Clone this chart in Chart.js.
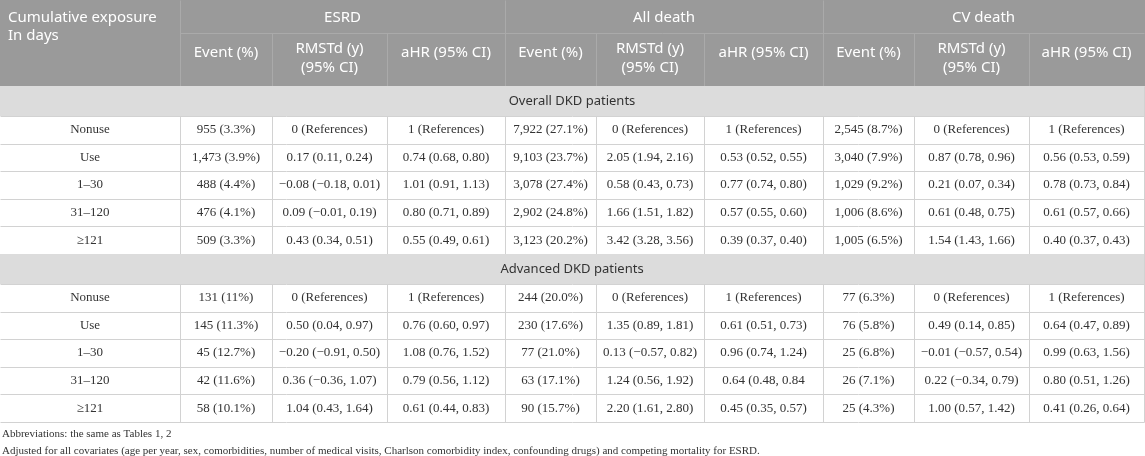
<!DOCTYPE html>
<html>
<head>
<meta charset="utf-8">
<script src="https://cdn.jsdelivr.net/npm/chart.js@4/dist/chart.umd.min.js"></script>
<style>
  html, body { margin: 0; padding: 0; background: #fff; }
  #wrap { width: 1145px; height: 456px; position: relative; }
</style>
</head>
<body>
<div id="wrap"><canvas id="myChart"></canvas></div>
<script>
const ctx = document.getElementById("myChart").getContext("2d");

// table content
const firstHead = ["Cumulative exposure", "In days"];
const outcomes = ["ESRD", "All death", "CV death"];
const subHeads = [["Event (%)"], ["RMSTd (y)", "(95% CI)"], ["aHR (95% CI)"]];
const exposure = ["Nonuse", "Use", "1–30", "31–120", "≥121"];
const sections = ["Overall DKD patients", "Advanced DKD patients"];

const overallEsrd = [
  ["955 (3.3%)", "0 (References)", "1 (References)"],
  ["1,473 (3.9%)", "0.17 (0.11, 0.24)", "0.74 (0.68, 0.80)"],
  ["488 (4.4%)", "−0.08 (−0.18, 0.01)", "1.01 (0.91, 1.13)"],
  ["476 (4.1%)", "0.09 (−0.01, 0.19)", "0.80 (0.71, 0.89)"],
  ["509 (3.3%)", "0.43 (0.34, 0.51)", "0.55 (0.49, 0.61)"],
];
const overallDeath = [
  ["7,922 (27.1%)", "0 (References)", "1 (References)"],
  ["9,103 (23.7%)", "2.05 (1.94, 2.16)", "0.53 (0.52, 0.55)"],
  ["3,078 (27.4%)", "0.58 (0.43, 0.73)", "0.77 (0.74, 0.80)"],
  ["2,902 (24.8%)", "1.66 (1.51, 1.82)", "0.57 (0.55, 0.60)"],
  ["3,123 (20.2%)", "3.42 (3.28, 3.56)", "0.39 (0.37, 0.40)"],
];
const overallCv = [
  ["2,545 (8.7%)", "0 (References)", "1 (References)"],
  ["3,040 (7.9%)", "0.87 (0.78, 0.96)", "0.56 (0.53, 0.59)"],
  ["1,029 (9.2%)", "0.21 (0.07, 0.34)", "0.78 (0.73, 0.84)"],
  ["1,006 (8.6%)", "0.61 (0.48, 0.75)", "0.61 (0.57, 0.66)"],
  ["1,005 (6.5%)", "1.54 (1.43, 1.66)", "0.40 (0.37, 0.43)"],
];
const advEsrd = [
  ["131 (11%)", "0 (References)", "1 (References)"],
  ["145 (11.3%)", "0.50 (0.04, 0.97)", "0.76 (0.60, 0.97)"],
  ["45 (12.7%)", "−0.20 (−0.91, 0.50)", "1.08 (0.76, 1.52)"],
  ["42 (11.6%)", "0.36 (−0.36, 1.07)", "0.79 (0.56, 1.12)"],
  ["58 (10.1%)", "1.04 (0.43, 1.64)", "0.61 (0.44, 0.83)"],
];
const advDeath = [
  ["244 (20.0%)", "0 (References)", "1 (References)"],
  ["230 (17.6%)", "1.35 (0.89, 1.81)", "0.61 (0.51, 0.73)"],
  ["77 (21.0%)", "0.13 (−0.57, 0.82)", "0.96 (0.74, 1.24)"],
  ["63 (17.1%)", "1.24 (0.56, 1.92)", "0.64 (0.48, 0.84"],
  ["90 (15.7%)", "2.20 (1.61, 2.80)", "0.45 (0.35, 0.57)"],
];
const advCv = [
  ["77 (6.3%)", "0 (References)", "1 (References)"],
  ["76 (5.8%)", "0.49 (0.14, 0.85)", "0.64 (0.47, 0.89)"],
  ["25 (6.8%)", "−0.01 (−0.57, 0.54)", "0.99 (0.63, 1.56)"],
  ["26 (7.1%)", "0.22 (−0.34, 0.79)", "0.80 (0.51, 1.26)"],
  ["25 (4.3%)", "1.00 (0.57, 1.42)", "0.41 (0.26, 0.64)"],
];
const footnotes = [
  "Abbreviations: the same as Tables 1, 2",
  "Adjusted for all covariates (age per year, sex, comorbidities, number of medical visits, Charlson comorbidity index, confounding drugs) and competing mortality for ESRD.",
];

const blocks = [
  [overallEsrd, overallDeath, overallCv],
  [advEsrd, advDeath, advCv],
];

// layout (in scale units = px of the 1145x456 page)
const colEdges = [0, 180, 272, 387, 505, 596, 704, 823, 914, 1029, 1144];
const headTop = 0, headMid = 33, headBottom = 86;
const sectionH = 30, rowH = 27.6;

const SANS = "'Noto Sans', 'Open Sans', sans-serif";
const SERIF = "'Liberation Serif', 'Times New Roman', serif";

const tablePlugin = {
  id: "table",
  afterDraw(chart) {
    const c = chart.ctx;
    const xs = chart.scales.x, ys = chart.scales.y;
    const X = (v) => xs.getPixelForValue(v);
    const Y = (v) => ys.getPixelForValue(v);
    const right = colEdges[colEdges.length - 1];

    function line(x1, y1, x2, y2, color) {
      c.strokeStyle = color;
      c.lineWidth = 1;
      c.beginPath();
      c.moveTo(Math.round(X(x1)) + 0.5, Math.round(Y(y1)) + 0.5);
      c.lineTo(Math.round(X(x2)) + 0.5, Math.round(Y(y2)) + 0.5);
      c.stroke();
    }
    function text(str, x, y, font, color, align) {
      c.font = font;
      c.fillStyle = color;
      c.textAlign = align || "center";
      c.textBaseline = "middle";
      c.fillText(str, X(x), Y(y));
    }

    c.save();

    // header
    c.fillStyle = "#9a9a9a";
    c.fillRect(X(0), Y(headTop), X(right + 1) - X(0), Y(headBottom) - Y(headTop));
    const hl = "#aaaaaa";
    line(colEdges[1], headMid, right, headMid, hl);
    [1, 4, 7].forEach((i) => line(colEdges[i], headTop, colEdges[i], headBottom, hl));
    [2, 3, 5, 6, 8, 9].forEach((i) => line(colEdges[i], headMid, colEdges[i], headBottom, hl));

    const hFont = "15px " + SANS;
    text(firstHead[0], 8, 18, hFont, "#fff", "left");
    text(firstHead[1], 8, 36, hFont, "#fff", "left");
    outcomes.forEach((o, g) => {
      const x0 = colEdges[1 + g * 3], x1 = colEdges[4 + g * 3];
      text(o, (x0 + x1) / 2, 18, hFont, "#fff");
      subHeads.forEach((lines, k) => {
        const cx = (colEdges[1 + g * 3 + k] + colEdges[2 + g * 3 + k]) / 2;
        if (lines.length === 1) text(lines[0], cx, 53, hFont, "#fff");
        else {
          text(lines[0], cx, 49, hFont, "#fff");
          text(lines[1], cx, 68, hFont, "#fff");
        }
      });
    });

    // body
    const bl = "#d2d2d2";
    let top = headBottom;
    blocks.forEach((block, s) => {
      c.fillStyle = "#dcdcdc";
      c.fillRect(X(0), Y(top), X(right + 1) - X(0), Y(top + sectionH) - Y(top));
      text(sections[s], right / 2, top + sectionH / 2, "13px " + SANS, "#333");
      top += sectionH;
      line(0, top, right, top, bl);
      exposure.forEach((lab, r) => {
        const yTop = top + r * rowH, yMid = yTop + rowH / 2;
        const dFont = "13px " + SERIF;
        text(lab, colEdges[1] / 2, yMid, dFont, "#333");
        block.forEach((outcome, g) => {
          outcome[r].forEach((val, k) => {
            const ci = 1 + g * 3 + k;
            text(val, (colEdges[ci] + colEdges[ci + 1]) / 2, yMid, dFont, "#333");
          });
        });
        line(0, yTop + rowH, right, yTop + rowH, bl);
        for (let i = 1; i < colEdges.length - 1; i++) line(colEdges[i], yTop, colEdges[i], yTop + rowH, bl);
      });
      top += exposure.length * rowH;
    });
    // outer right edge
    line(right, headBottom, right, top, bl);

    // footnotes
    text(footnotes[0], 2, top + 12, "11px " + SERIF, "#333", "left");
    text(footnotes[1], 2, top + 29, "11px " + SERIF, "#333", "left");

    c.restore();
  },
};

const config = {
  type: "scatter",
  data: { datasets: [] },
  options: {
    responsive: true,
    maintainAspectRatio: false,
    animation: false,
    layout: { padding: 0 },
    plugins: { legend: { display: false }, tooltip: { enabled: false } },
    scales: {
      x: { type: "linear", min: 0, max: 1145, display: false },
      y: { type: "linear", min: 0, max: 456, reverse: true, display: false },
    },
  },
  plugins: [tablePlugin],
};

new Chart(ctx, config);
</script>
</body>
</html>
